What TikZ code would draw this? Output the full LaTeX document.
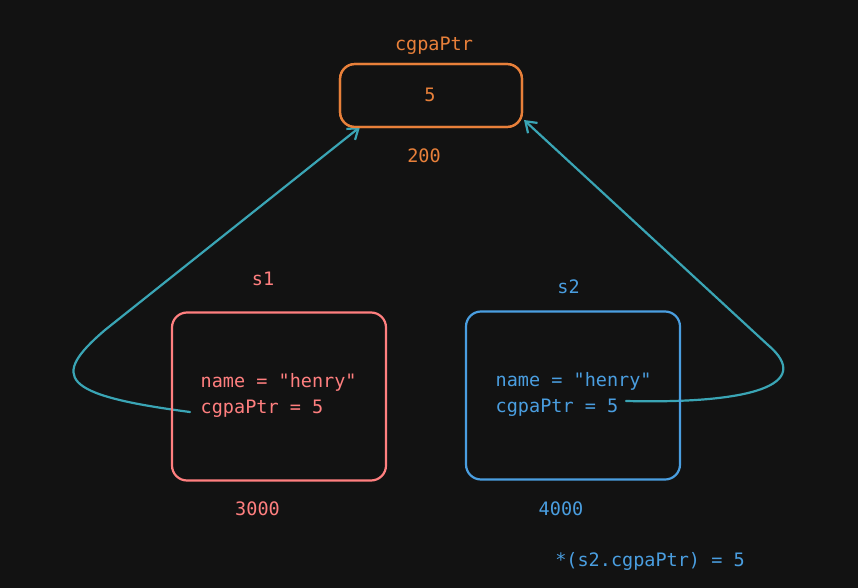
\documentclass[tikz,border=0pt]{standalone}
\usepackage{fontspec}
\setmonofont{DejaVu Sans Mono}
\usetikzlibrary{arrows.meta}
\definecolor{bg}{HTML}{121212}
\definecolor{orng}{HTML}{E8803A}
\definecolor{pnk}{HTML}{FF7F7F}
\definecolor{blu}{HTML}{4A9EE0}
\definecolor{teal}{HTML}{3AA5B5}
\tikzset{
  txt/.style={font=\ttfamily\fontsize{18.5}{22}\selectfont, inner sep=0pt},
  membox/.style={draw, line width=2.2pt, rounded corners=15pt, inner sep=0pt},
  ptr/.style={draw=teal, line width=2.2pt, line cap=round, -{Straight Barb[length=10pt,width=14pt,line width=2.2pt]}}
}
\begin{document}
\begin{tikzpicture}[x=1pt,y=-1pt]
\fill[bg] (0,0) rectangle (858,588);
\useasboundingbox (0,0) rectangle (858,588);
% pointer source coordinates
\coordinate (src1) at (190,412);
\coordinate (src2) at (626,401);
\coordinate (bend1) at (105,330);
\coordinate (bend2) at (768,345);
% boxes (geometry)
\node[membox, draw=orng, minimum width=182pt, minimum height=63pt] (cbox) at (431,95.5) {};
\coordinate (tip1) at (360,127);
\coordinate (tip2) at (524,120);
% arrows drawn first so the boxes cover them
\draw[ptr] (src1) .. controls (60,395) and (50,377) .. (bend1) -- (tip1);
\draw[ptr] (src2) .. controls (750,404) and (815,385) .. (bend2) -- (tip2);
% boxes
\node[membox, draw=orng, minimum width=182pt, minimum height=63pt] at (cbox) {};
\node[membox, draw=pnk, minimum width=214pt, minimum height=168pt] (s1box) at (279,396.5) {};
\node[membox, draw=blu, minimum width=214pt, minimum height=168pt] (s2box) at (573,395.5) {};
% texts
\node[txt, text=orng, anchor=base] (clabel) at (434,50.5) {cgpaPtr};
\node[txt, text=orng, anchor=base] (cval) at (430,101.5) {5};
\node[txt, text=orng, anchor=base] (caddr) at (424,163) {200};
\node[txt, text=pnk, anchor=base] (s1label) at (263,285) {s1};
\node[txt, text=pnk, anchor=base west] (s1name) at (200.5,387) {name = "henry"};
\node[txt, text=pnk, anchor=base west] (s1ptr) at (200.5,413) {cgpaPtr = 5};
\node[txt, text=pnk, anchor=base] (s1addr) at (257.5,515) {3000};
\node[txt, text=blu, anchor=base] (s2label) at (568.5,293) {s2};
\node[txt, text=blu, anchor=base west] (s2name) at (495.5,386) {name = "henry"};
\node[txt, text=blu, anchor=base west] (s2ptr) at (495.5,412) {cgpaPtr = 5};
\node[txt, text=blu, anchor=base] (s2addr) at (561,515) {4000};
\node[txt, text=blu, anchor=base] (deref) at (650,566.5) {*(s2.cgpaPtr) = 5};
\end{tikzpicture}
\end{document}
